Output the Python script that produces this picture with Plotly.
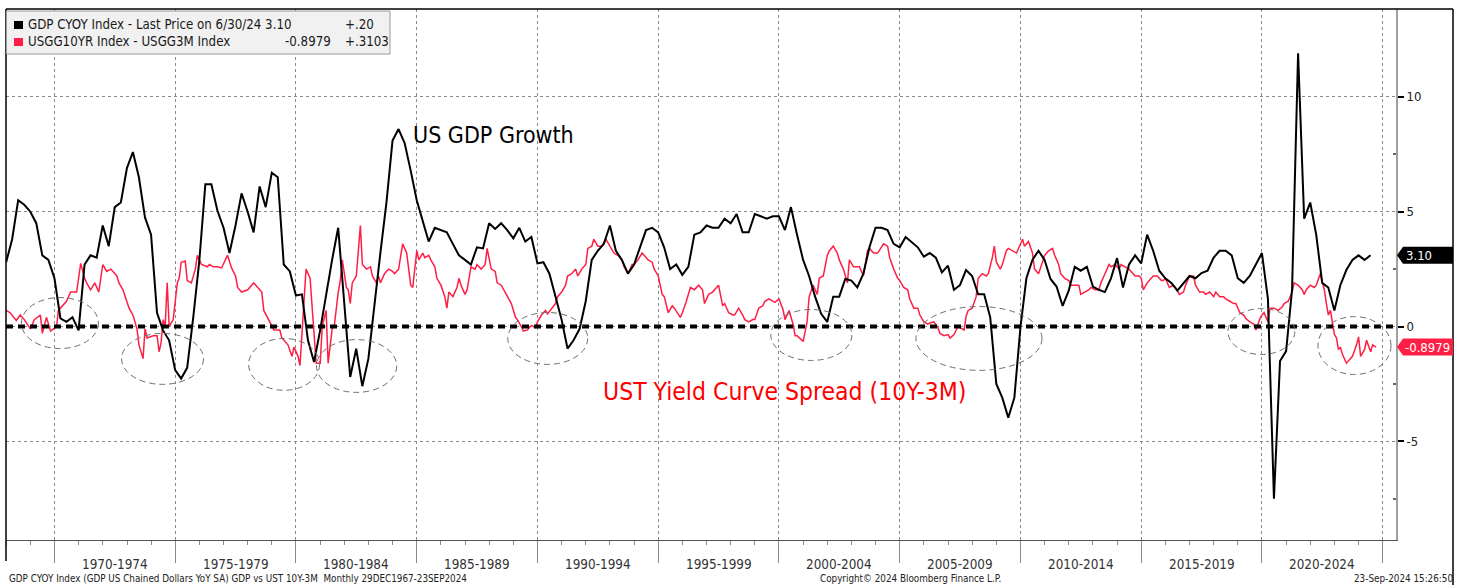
import pandas as pd
import plotly.graph_objects as go

# ---------------- data ----------------
# US real GDP YoY % (quarterly, quarter-end), 1967Q4 .. 2024Q2
gdp_start = "1967-12-31"
gdp_vals = [
    2.8,
    3.8, 5.5, 5.3, 5.0,
    4.5, 3.1, 2.9, 2.1,
    0.35, 0.2, 0.4, -0.17,
    2.7, 3.1, 3.0, 4.4,
    3.5, 5.2, 5.4, 6.9,
    7.6, 6.5, 4.75, 4.0,
    0.6, -0.17, -0.6, -1.9,
    -2.27, -1.8, 0.4, 2.87,
    6.2, 6.2, 5.04, 4.3,
    3.2, 4.4, 5.8, 5.0,
    4.1, 6.1, 5.2, 6.7,
    6.5, 2.7, 2.4, 1.35,
    1.4, -0.6, -1.55, -0.17,
    1.4, 2.9, 4.3, 1.1,
    -2.2, -0.97, -2.6, -1.4,
    1.0, 3.2, 5.4, 8.1,
    8.6, 8.0, 6.8, 5.5,
    4.6, 3.7, 4.3, 4.2,
    4.1, 3.6, 3.1, 2.9,
    2.7, 3.45, 3.4, 4.5,
    4.25, 4.5, 4.2, 3.84,
    4.3, 3.7, 3.9, 2.75,
    2.8, 2.3, 1.3, 0.3,
    -0.96, -0.6, -0.1, 1.1,
    2.9, 3.3, 3.6, 4.4,
    3.3, 2.9, 2.3, 2.7,
    3.45, 4.2, 4.3, 4.1,
    3.45, 2.5, 2.7, 2.25,
    2.6, 4.0, 4.1, 4.4,
    4.3, 4.3, 4.7, 4.5,
    4.9, 4.1, 4.1, 4.9,
    4.8, 4.7, 4.8, 4.8,
    4.2, 5.2, 4.0, 2.9,
    2.2, 1.3, 0.55, 0.2,
    1.3, 1.3, 2.07, 2.0,
    1.7, 2.3, 3.45, 4.3,
    4.3, 4.2, 3.6, 3.45,
    3.9, 3.67, 3.45, 3.04,
    3.2, 3.0, 2.36, 2.65,
    1.6, 1.8, 2.46, 2.2,
    1.4, 1.4, 0.4, -2.5,
    -3.1, -3.97, -3.1, -0.03,
    2.1, 2.9, 3.3, 2.9,
    2.07, 1.74, 0.9, 1.56,
    2.6, 2.43, 2.6, 1.74,
    1.6, 1.5, 2.1, 2.98,
    1.7, 2.7, 3.1, 2.75,
    4.0, 3.3, 2.43, 2.1,
    1.9, 1.56, 1.9, 2.2,
    2.1, 2.33, 2.43, 3.0,
    3.3, 3.3, 3.1, 2.1,
    1.9, 2.2, 2.7, 3.2,
    1.2, -7.5, -1.5, -1.07,
    1.6, 11.9, 4.7, 5.4,
    4.0, 1.9, 1.7, 0.7,
    1.8, 2.46, 2.9, 3.1,
    2.9, 3.1,
]
gdp_dates = pd.date_range(gdp_start, periods=len(gdp_vals), freq="QE")

# UST 10Y - 3M spread (%)
spread_dates = [
    "1968-01", "1968-03", "1968-06", "1968-08", "1968-10", "1969-01", "1969-03", "1969-06", "1969-07", "1969-09",
    "1969-11", "1970-02", "1970-03", "1970-07", "1970-09", "1970-12", "1971-02", "1971-04", "1971-05", "1971-07",
    "1971-09", "1971-11", "1972-01", "1972-03", "1972-05", "1972-08", "1972-09", "1972-11", "1973-02", "1973-04",
    "1973-06", "1973-07", "1973-09", "1973-10", "1973-11", "1974-02", "1974-04", "1974-05", "1974-06", "1974-07",
    "1974-08", "1974-09", "1974-10", "1974-12", "1975-02", "1975-03", "1975-04", "1975-06", "1975-07", "1975-09",
    "1975-11", "1975-12", "1976-02", "1976-05", "1976-06", "1976-08", "1976-10", "1976-12", "1977-03", "1977-05",
    "1977-07", "1977-08", "1977-10", "1978-01", "1978-03", "1978-04", "1978-06", "1978-08", "1978-09", "1978-12",
    "1979-02", "1979-05", "1979-06", "1979-09", "1979-11", "1979-12", "1980-02", "1980-03", "1980-04", "1980-06",
    "1980-08", "1980-09", "1980-11", "1981-01", "1981-02", "1981-04", "1981-05", "1981-07", "1981-08", "1981-10",
    "1981-11", "1981-12", "1982-02", "1982-03", "1982-04", "1982-05", "1982-07", "1982-09", "1982-10", "1982-12",
    "1983-02", "1983-03", "1983-05", "1983-06", "1983-07", "1983-09", "1983-11", "1984-01", "1984-02", "1984-04",
    "1984-06", "1984-08", "1984-10", "1984-11", "1985-01", "1985-02", "1985-04", "1985-05", "1985-07", "1985-08",
    "1985-10", "1985-11", "1986-01", "1986-03", "1986-04", "1986-05", "1986-07", "1986-09", "1986-10", "1986-11",
    "1987-01", "1987-02", "1987-04", "1987-06", "1987-07", "1987-09", "1987-11", "1987-12", "1988-02", "1988-04",
    "1988-05", "1988-07", "1988-09", "1988-10", "1988-12", "1989-02", "1989-03", "1989-05", "1989-06", "1989-08",
    "1989-10", "1989-12", "1990-01", "1990-03", "1990-05", "1990-06", "1990-08", "1990-10", "1990-11", "1991-01",
    "1991-03", "1991-04", "1991-06", "1991-08", "1991-09", "1991-11", "1992-01", "1992-02", "1992-04", "1992-05",
    "1992-07", "1992-09", "1992-11", "1992-12", "1993-02", "1993-03", "1993-05", "1993-07", "1993-08", "1993-10",
    "1993-12", "1994-01", "1994-03", "1994-05", "1994-06", "1994-08", "1994-10", "1994-11", "1995-01", "1995-03",
    "1995-04", "1995-06", "1995-08", "1995-09", "1995-12", "1996-01", "1996-03", "1996-05", "1996-07", "1996-09",
    "1996-11", "1996-12", "1997-02", "1997-04", "1997-05", "1997-07", "1997-09", "1997-10", "1997-12", "1998-02",
    "1998-03", "1998-05", "1998-07", "1998-08", "1998-10", "1998-12", "1999-01", "1999-03", "1999-05", "1999-06",
    "1999-08", "1999-10", "1999-11", "2000-01", "2000-03", "2000-04", "2000-06", "2000-08", "2000-09", "2000-10",
    "2001-01", "2001-03", "2001-04", "2001-06", "2001-08", "2001-09", "2001-11", "2002-01", "2002-02", "2002-04",
    "2002-06", "2002-07", "2002-09", "2002-11", "2002-12", "2003-02", "2003-04", "2003-05", "2003-07", "2003-09",
    "2003-10", "2003-12", "2004-02", "2004-05", "2004-07", "2004-08", "2004-10", "2004-12", "2005-01", "2005-03",
    "2005-05", "2005-06", "2005-08", "2005-10", "2005-11", "2006-01", "2006-03", "2006-04", "2006-06", "2006-08",
    "2006-09", "2006-11", "2007-01", "2007-02", "2007-04", "2007-06", "2007-07", "2007-09", "2007-10", "2007-11",
    "2008-01", "2008-03", "2008-04", "2008-06", "2008-08", "2008-09", "2008-11", "2008-12", "2009-01", "2009-03",
    "2009-04", "2009-06", "2009-07", "2009-09", "2009-11", "2009-12", "2010-02", "2010-03", "2010-05", "2010-07",
    "2010-08", "2010-10", "2010-12", "2011-01", "2011-03", "2011-05", "2011-06", "2011-08", "2011-09", "2011-11",
    "2012-01", "2012-02", "2012-04", "2012-06", "2012-07", "2012-09", "2012-11", "2012-12", "2013-02", "2013-04",
    "2013-05", "2013-07", "2013-09", "2013-10", "2013-12", "2014-02", "2014-03", "2014-05", "2014-07", "2014-08",
    "2014-10", "2014-12", "2015-01", "2015-02", "2015-04", "2015-06", "2015-07", "2015-09", "2015-11", "2015-12",
    "2016-01", "2016-03", "2016-05", "2016-06", "2016-08", "2016-10", "2016-11", "2017-01", "2017-03", "2017-04",
    "2017-06", "2017-08", "2017-09", "2017-11", "2018-01", "2018-02", "2018-04", "2018-06", "2018-07", "2018-09",
    "2018-11", "2018-12", "2019-02", "2019-04", "2019-05", "2019-07", "2019-09", "2019-10", "2019-12", "2020-01",
    "2020-02", "2020-04", "2020-05", "2020-07", "2020-09", "2020-11", "2020-12", "2021-02", "2021-04", "2021-05",
    "2021-07", "2021-09", "2021-10", "2021-11", "2022-01", "2022-03", "2022-04", "2022-06", "2022-08", "2022-09",
    "2022-10", "2022-11", "2022-12", "2023-01", "2023-02", "2023-03", "2023-04", "2023-05", "2023-07", "2023-09",
    "2023-10", "2023-12", "2024-01", "2024-02", "2024-04", "2024-05", "2024-06", "2024-07", "2024-08", "2024-09-23",
]
spread_vals = [
    0.7, 0.6, 0.26, 0.5, 0.3, -0.1, 0.3, 0.5, -0.3, 0.4,
    -0.2, 0.0, 0.7, 1.1, 1.5, 1.5, 2.75, 2.1, 1.9, 1.6,
    1.9, 1.5, 2.7, 2.4, 2.5, 2.2, 1.9, 1.6, 0.8, 0.5,
    -0.1, -0.8, -1.4, -0.1, -0.5, -0.4, -0.4, -1.1, -0.7, 0.3,
    0.0, 1.9, 0.0, 0.3, 1.9, 2.1, 2.8, 2.85, 2.0, 1.9,
    2.5, 3.1, 2.7, 2.6, 2.7, 2.6, 2.6, 2.55, 3.1, 2.55,
    2.2, 1.7, 1.5, 1.6, 1.8, 1.9, 1.7, 1.5, 0.7, 0.15,
    -0.15, -0.15, -0.5, -0.8, -1.3, -0.9, -1.3, -1.7, -0.15, 2.5,
    2.1, 0.7, -1.6, -1.6, 0.0, 0.7, -1.6, -0.1, 0.0, 1.5,
    2.0, 2.9, 1.7, 1.6, 1.0, 1.9, 2.2, 4.4, 2.7, 2.5,
    2.6, 2.2, 1.9, 2.2, 1.9, 2.3, 2.5, 2.4, 2.3, 2.5,
    3.6, 3.2, 1.8, 1.7, 3.3, 2.9, 3.2, 3.0, 3.1, 2.9,
    2.6, 2.1, 1.8, 1.3, 0.8, 1.5, 1.3, 1.7, 2.1, 1.8,
    1.4, 1.6, 2.6, 2.5, 2.7, 2.5, 2.7, 3.4, 2.5, 2.4,
    1.9, 1.8, 1.5, 1.3, 1.0, 0.4, 0.3, 0.0, -0.2, -0.15,
    0.05, -0.05, 0.2, 0.5, 0.7, 0.55, 0.8, 1.0, 1.3, 1.5,
    1.8, 2.2, 2.3, 2.5, 2.2, 2.5, 2.7, 3.4, 3.5, 3.8,
    3.5, 3.5, 3.8, 3.65, 3.4, 3.2, 3.1, 2.9, 2.6, 2.3,
    2.7, 2.7, 2.9, 3.2, 3.1, 2.9, 2.8, 2.5, 2.2, 1.4,
    1.3, 0.6, 0.9, 0.8, 0.4, 0.6, 1.1, 1.7, 1.6, 1.8,
    1.6, 1.0, 1.4, 1.5, 1.6, 1.8, 0.9, 1.0, 0.6, 0.5,
    0.5, 0.8, 0.5, 0.3, 0.2, 0.3, 0.3, 0.8, 0.9, 1.1,
    1.2, 1.1, 1.05, 1.2, 0.75, 0.3, 0.7, 0.1, -0.4, -0.4,
    -0.65, 0.2, 1.3, 1.8, 1.4, 2.1, 2.2, 3.1, 3.3, 3.5,
    3.2, 2.9, 2.5, 1.9, 2.9, 2.6, 2.6, 2.6, 2.2, 3.3,
    3.4, 3.2, 3.2, 3.6, 3.5, 3.0, 2.5, 2.1, 2.0, 1.7,
    1.6, 1.2, 0.8, 0.8, 0.5, 0.2, 0.1, 0.15, 0.2, -0.05,
    -0.3, -0.4, -0.35, -0.5, -0.35, 0.0, -0.05, -0.15, 0.45, 0.7,
    0.8, 1.3, 2.1, 2.3, 2.2, 2.3, 3.0, 3.5, 2.8, 2.5,
    2.7, 3.3, 3.4, 3.3, 3.2, 3.4, 3.8, 3.5, 3.7, 3.2,
    2.5, 2.3, 2.8, 3.1, 3.3, 3.4, 3.1, 2.7, 2.3, 2.1,
    2.0, 1.8, 1.8, 1.8, 1.4, 1.5, 1.6, 1.7, 1.6, 1.6,
    1.9, 2.3, 2.7, 2.6, 2.7, 2.5, 2.7, 2.6, 2.5, 2.4,
    2.2, 2.2, 2.1, 1.6, 1.9, 2.1, 2.2, 2.2, 2.0, 2.0,
    2.1, 1.7, 1.8, 1.7, 1.4, 1.5, 1.8, 2.2, 2.2, 1.8,
    1.5, 1.5, 1.4, 1.5, 1.3, 1.5, 1.3, 1.3, 1.2, 1.1,
    1.0, 1.0, 0.6, 0.5, 0.35, 0.2, 0.1, -0.15, 0.35, 0.5,
    0.6, 0.2, 0.8, 0.8, 0.7, 0.85, 1.0, 1.1, 1.5, 1.9,
    1.8, 1.6, 1.4, 1.6, 1.8, 1.7, 1.8, 2.3, 1.6, 1.0,
    0.5, 0.7, 0.2, -0.35, -0.5, -1.0, -0.9, -1.2, -1.6, -1.4,
    -1.3, -0.8, -0.45, -1.3, -1.0, -0.6, -0.9, -1.1, -0.8, -0.8979,
]

period_labels = ["1970-1974", "1975-1979", "1980-1984", "1985-1989", "1990-1994",
                 "1995-1999", "2000-2004", "2005-2009", "2010-2014", "2015-2019", "2020-2024"]
period_starts = [1970, 1975, 1980, 1985, 1990, 1995, 2000, 2005, 2010, 2015, 2020]
y_ticks = [-5, 0, 5, 10]

gdp_last = gdp_vals[-1]
spread_last = spread_vals[-1]

# ---------------- styling helpers ----------------
FONT = "DejaVu Sans Condensed, DejaVu Sans, sans-serif"
RED = "#ff1f45"
W, H = 1462, 585
L, R, T, B = 6, 66, 9, 45
PW, PH = W - L - R, H - T - B


def px(x):  # pixel x -> paper
    return (x - L) / PW


def py(y):  # pixel y -> paper
    return (H - B - y) / PH


def ydate(d):  # decimal year -> timestamp
    y = int(d)
    return (pd.Timestamp(y, 1, 1) + pd.Timedelta(days=(d - y) * 365.25)).strftime("%Y-%m-%d")


fig = go.Figure()
fig.add_trace(go.Scatter(x=spread_dates, y=spread_vals, mode="lines",
                         line=dict(color=RED, width=1.5), hoverinfo="skip"))
fig.add_trace(go.Scatter(x=gdp_dates, y=gdp_vals, mode="lines",
                         line=dict(color="black", width=2), hoverinfo="skip"))

year_ticks = [f"{y}-01-01" for y in range(1968, 2026)]
five_ticks = [f"{y}-01-01" for y in range(1970, 2030, 5)]

fig.update_layout(
    width=W, height=H,
    margin=dict(l=L, r=R, t=T, b=B),
    paper_bgcolor="white", plot_bgcolor="white",
    showlegend=False,
    font=dict(family=FONT, color="#222"),
    xaxis=dict(
        type="date", range=["1967-12-29", "2025-07-20"],
        tickmode="array", tickvals=five_ticks, showticklabels=False,
        ticks="outside", ticklen=22, tickcolor="#8a8a8a", tickwidth=1,
        showgrid=True, gridcolor="#8a8a8a", griddash="dot", gridwidth=1,
        showline=True, linecolor="#555", linewidth=1, zeroline=False,
        minor=dict(tickmode="array", tickvals=year_ticks, ticks="outside",
                   ticklen=4, tickcolor="#8a8a8a", showgrid=False),
    ),
    yaxis=dict(
        side="right", range=[-9.3, 13.83],
        tickmode="array", tickvals=y_ticks, ticktext=[str(v) for v in y_ticks],
        ticks="outside", ticklen=6, tickwidth=2, tickcolor="black",
        tickfont=dict(size=13, color="#222", family=FONT),
        showgrid=True, gridcolor="#8a8a8a", griddash="dot", gridwidth=1,
        showline=True, linecolor="#a0a0a0", linewidth=2, zeroline=False,
        minor=dict(tickmode="array", tickvals=[-7.5, -2.5, 2.5, 7.5], ticks="inside",
                   ticklen=3, tickcolor="#666", showgrid=False),
    ),
)

shapes = []
# zero dashed line
shapes.append(dict(type="line", xref="paper", yref="y", x0=0, x1=1, y0=0, y1=0,
                   line=dict(color="black", width=4, dash="7px,5px"), layer="above"))
# dashed ellipses
ellipses = [
    (1968.63, 1971.82, 1.26, -0.96),
    (1972.78, 1976.17, -0.30, -2.52),
    (1978.04, 1980.98, -0.52, -2.78),
    (1980.85, 1984.17, -0.57, -2.87),
    (1988.77, 1992.08, 0.61, -1.65),
    (1999.66, 2003.02, 0.74, -1.48),
    (2005.67, 2010.89, 0.87, -1.91),
    (2018.59, 2021.36, 0.78, -1.22),
    (2022.32, 2025.34, 0.43, -2.09),
]
for x0, x1, y0, y1 in ellipses:
    shapes.append(dict(type="circle", xref="x", yref="y", x0=ydate(x0), x1=ydate(x1),
                       y0=y0, y1=y1, line=dict(color="#6e6e6e", width=1, dash="6px,4px"),
                       layer="above"))
# outer frame
shapes.append(dict(type="line", xref="paper", yref="paper", x0=0, x1=px(1453), y0=1, y1=1,
                   line=dict(color="black", width=1.5)))
shapes.append(dict(type="line", xref="paper", yref="paper", x0=0, x1=0, y0=1, y1=py(561),
                   line=dict(color="black", width=1.5)))
shapes.append(dict(type="line", xref="paper", yref="paper", x0=px(1453), x1=px(1453), y0=1, y1=py(585),
                   line=dict(color="black", width=1.5)))
# legend box
shapes.append(dict(type="rect", xref="paper", yref="paper", x0=px(6.5), x1=px(390), y0=py(11), y1=py(54),
                   fillcolor="#f1f1f1", line=dict(color="#9a9a9a", width=1), layer="above"))
shapes.append(dict(type="rect", xref="paper", yref="paper", x0=px(14), x1=px(23), y0=py(21), y1=py(29),
                   fillcolor="black", line=dict(width=0), layer="above"))
shapes.append(dict(type="rect", xref="paper", yref="paper", x0=px(14), x1=px(23), y0=py(38), y1=py(46),
                   fillcolor=RED, line=dict(width=0), layer="above"))


# last-value tags on right axis
def tag(v, color):
    xt, xb, xr, h = px(1397), px(1403), px(1453), 0.37
    return dict(type="path", xref="paper", yref="y",
                path=f"M {xt},{v} L {xb},{v + h} L {xr},{v + h} L {xr},{v - h} L {xb},{v - h} Z",
                fillcolor=color, line=dict(width=0), layer="above")


shapes.append(tag(gdp_last, "black"))
shapes.append(tag(spread_last, RED))

ann = []
for lab, y0 in zip(period_labels, period_starts):
    ann.append(dict(x=f"{y0 + 2}-07-02", y=py(564), xref="x", yref="paper", text=lab,
                    showarrow=False, font=dict(size=13.4, color="#333", family=FONT),
                    xanchor="center", yanchor="middle"))
ann += [
    dict(x=px(26), y=py(25), text="GDP CYOY Index - Last Price on 6/30/24 3.10", xanchor="left"),
    dict(x=px(343), y=py(25), text="+.20", xanchor="left"),
    dict(x=px(26), y=py(41.5), text="USGG10YR Index - USGG3M Index", xanchor="left"),
    dict(x=px(333), y=py(41.5), text=f"{spread_last:.4f}", xanchor="right"),
    dict(x=px(343), y=py(41.5), text="+.3103", xanchor="left"),
]
for a in ann[len(period_labels):]:
    a.update(xref="paper", yref="paper", showarrow=False, yanchor="middle",
             font=dict(size=13.2, color="#1a1a1a", family=FONT))
ann += [
    dict(x=px(493), y=py(135), xref="paper", yref="paper", text="US GDP Growth", showarrow=False,
         font=dict(size=23, color="black", family=FONT), xanchor="center", yanchor="middle"),
    dict(x=px(784), y=py(391), xref="paper", yref="paper", text="UST Yield Curve Spread (10Y-3M)",
         showarrow=False, font=dict(size=24.5, color="#ff0000", family=FONT),
         xanchor="center", yanchor="middle"),
    dict(x=px(1404), y=gdp_last, xref="paper", yref="y", text=f"{gdp_last:.2f}", showarrow=False,
         font=dict(size=13, color="white", family=FONT), xanchor="left", yanchor="middle"),
    dict(x=px(1403), y=spread_last, xref="paper", yref="y", text=f"{spread_last:.4f}", showarrow=False,
         font=dict(size=13, color="white", family=FONT), xanchor="left", yanchor="middle"),
    dict(x=px(7), y=py(578), xref="paper", yref="paper",
         text="GDP CYOY Index (GDP US Chained Dollars YoY SA) GDP vs UST 10Y-3M  Monthly 29DEC1967-23SEP2024",
         showarrow=False, font=dict(size=9.8, color="#222", family=FONT), xanchor="left", yanchor="middle"),
    dict(x=px(910), y=py(578), xref="paper", yref="paper", text="Copyright\u00a9 2024 Bloomberg Finance L.P.",
         showarrow=False, font=dict(size=9.8, color="#222", family=FONT), xanchor="center", yanchor="middle"),
    dict(x=px(1455), y=py(578), xref="paper", yref="paper", text="23-Sep-2024 15:26:50",
         showarrow=False, font=dict(size=9.8, color="#222", family=FONT), xanchor="right", yanchor="middle"),
]

fig.update_layout(shapes=shapes, annotations=ann)
fig.write_html("out.html", config={"displayModeBar": False},
               post_script="document.body.style.margin='0';document.body.style.overflow='hidden';")
